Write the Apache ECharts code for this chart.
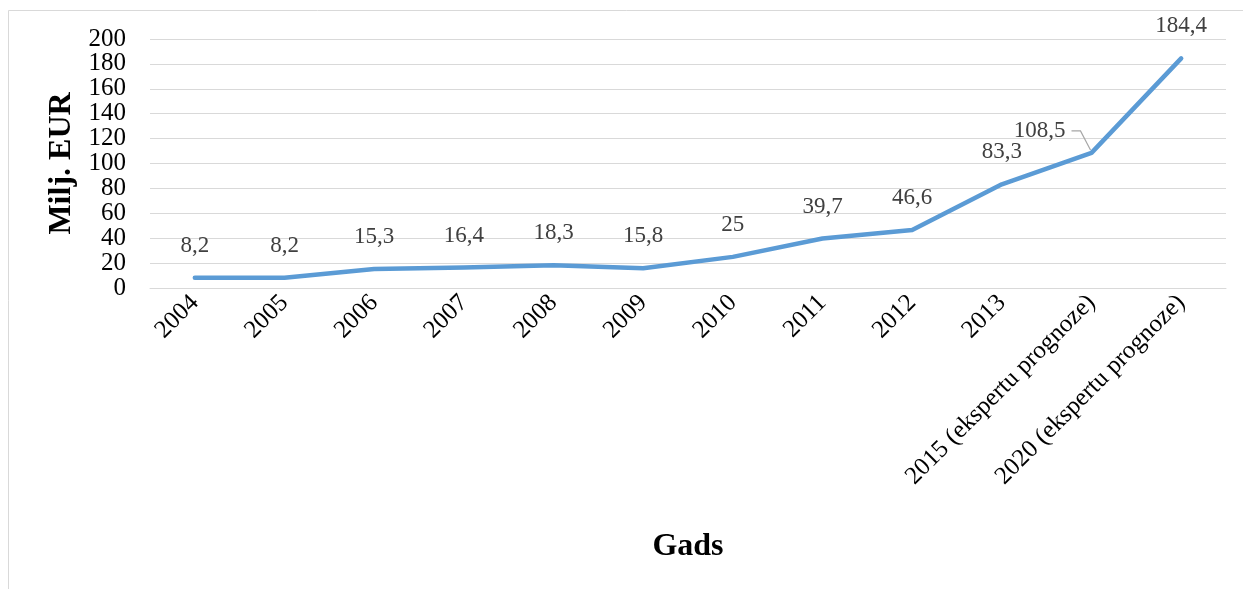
<!DOCTYPE html>
<html>
<head>
<meta charset="utf-8">
<script src="https://cdn.jsdelivr.net/npm/echarts@6/dist/echarts.min.js"></script>
<style>html,body{margin:0;padding:0;background:#fff}#c{width:1243px;height:589px}</style>
</head>
<body>
<div id="c"></div>
<script>
var categories = ['2004','2005','2006','2007','2008','2009','2010','2011','2012','2013','2015 (ekspertu prognoze)','2020 (ekspertu prognoze)'];
var values = [8.2, 8.2, 15.3, 16.4, 18.3, 15.8, 25, 39.7, 46.6, 83.3, 108.5, 184.4];
var yTitle = 'Milj. EUR';
var xTitle = 'Gads';

var font = 'Liberation Serif, Times New Roman, serif';
var chart = echarts.init(document.getElementById('c'));
var movedIdx = 10;
var data = values.map(function (v, i) {
  var d = { value: v };
  if (i === movedIdx) {
    d.label = { offset: [-52, 10] };
  }
  return d;
});
var border = {
  type: 'rect', shape: { x: 8.5, y: 10.5, width: 1250, height: 600 },
  style: { fill: null, stroke: '#d9d9d9', lineWidth: 1 }, silent: true
};
chart.setOption({
  animation: false,
  backgroundColor: '#fff',
  graphic: [border],
  grid: { left: 150, right: 17, top: 39, bottom: 301 },
  xAxis: {
    type: 'category', data: categories, boundaryGap: true,
    name: xTitle, nameLocation: 'middle', nameGap: 243,
    nameTextStyle: { fontFamily: font, fontWeight: 'bold', fontSize: 32, color: '#000' },
    axisLine: { show: true, lineStyle: { color: '#d9d9d9', width: 1 } },
    axisTick: { show: false },
    axisLabel: { rotate: 45, margin: 11, fontFamily: font, fontSize: 25, color: '#000', interval: 0 }
  },
  yAxis: {
    type: 'value', min: 0, max: 200, interval: 20,
    name: yTitle, nameLocation: 'middle', nameGap: 72,
    nameTextStyle: { fontFamily: font, fontWeight: 'bold', fontSize: 32, color: '#000' },
    axisLine: { show: false }, axisTick: { show: false },
    axisLabel: { margin: 24, fontFamily: font, fontSize: 25, color: '#000' },
    splitLine: { lineStyle: { color: '#d9d9d9', width: 1 } }
  },
  series: [{
    type: 'line', data: data, z: 3,
    symbol: 'circle', symbolSize: 1, showSymbol: true,
    itemStyle: { color: 'rgba(0,0,0,0)', borderWidth: 0 },
    lineStyle: { color: '#5b9bd5', width: 4.5, cap: 'round', join: 'round' },
    label: {
      show: true, position: 'top', distance: 20,
      fontFamily: font, fontSize: 23, color: '#404040',
      formatter: function (p) { return String(p.value).replace('.', ','); }
    }
  }]
});
// leader line for the moved label, derived from the chart's own scales
var pt = chart.convertToPixel({ seriesIndex: 0 }, [movedIdx, values[movedIdx]]);
chart.setOption({
  graphic: [border, {
    type: 'polyline', silent: true, z: 1,
    shape: { points: [[pt[0] - 20, pt[1] - 22], [pt[0] - 11, pt[1] - 22], [pt[0] - 1, pt[1] - 3]] },
    style: { stroke: '#a6a6a6', lineWidth: 1.2, fill: null }
  }]
});
</script>
</body>
</html>
